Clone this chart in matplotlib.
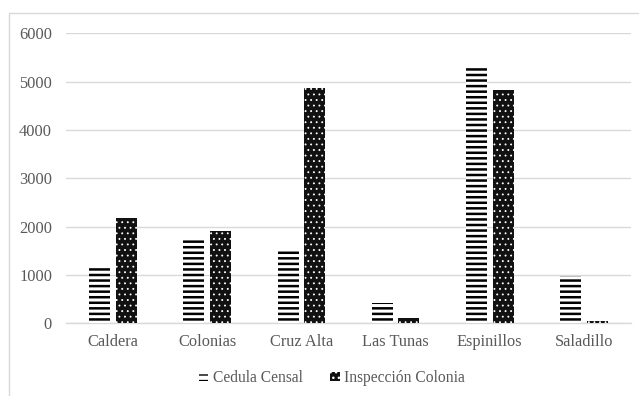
import matplotlib
matplotlib.use("Agg")
import matplotlib.pyplot as plt
import matplotlib.patches as mpatches
import numpy as np

categories = ["Caldera", "Colonias", "Cruz Alta", "Las Tunas", "Espinillos", "Saladillo"]
cedula_censal = [1180, 1720, 1540, 410, 5310, 970]
inspeccion_colonia = [2170, 1910, 4860, 110, 4820, 50]
series_names = ["Cedula Censal", "Inspección Colonia"]
y_ticks = [0, 1000, 2000, 3000, 4000, 5000, 6000]

plt.rcParams["font.family"] = ["Liberation Serif", "DejaVu Serif"]
text_color = "#595959"
grid_color = "#d9d9d9"

fig = plt.figure(figsize=(6.39, 3.96), dpi=100)
ax = fig.add_axes([66 / 639, 1 - 323.3 / 396, 565 / 639, (323.3 - 33.3) / 396])

x = np.arange(len(categories))
width = 0.223
offset = 0.142

with plt.rc_context({"hatch.linewidth": 1.8}):
    b1 = ax.bar(x - offset, cedula_censal, width, facecolor="white",
                edgecolor="black", linewidth=0, hatch="---",
                label=series_names[0], zorder=3)
with plt.rc_context({"hatch.linewidth": 0.6}):
    b2 = ax.bar(x + offset, inspeccion_colonia, width, facecolor="#111111",
                edgecolor="white", linewidth=0, hatch="...",
                label=series_names[1], zorder=3)

ax.set_xlim(-0.5, len(categories) - 0.5)
ax.set_ylim(0, 6000)
ax.set_yticks(y_ticks)
ax.set_xticks(x)
ax.set_xticklabels(categories)
ax.yaxis.grid(True, color=grid_color, linewidth=1.0, zorder=0)
ax.set_axisbelow(True)
for side in ["top", "right", "left"]:
    ax.spines[side].set_visible(False)
ax.spines["bottom"].set_color(grid_color)
ax.spines["bottom"].set_linewidth(1.0)
ax.tick_params(axis="both", length=0, labelsize=11.8, colors=text_color)
ax.tick_params(axis="y", pad=10)
ax.tick_params(axis="x", pad=8)

leg = fig.legend(handles=[b1, b2], labels=series_names, loc="center",
                 bbox_to_anchor=(332 / 639, 1 - 378 / 396), ncol=2,
                 frameon=False, fontsize=11.2, handlelength=0.6,
                 handleheight=0.6, handletextpad=0.3, columnspacing=1.8)
for t in leg.get_texts():
    t.set_color(text_color)

# chart frame
fig.patches.append(mpatches.Rectangle((8.5 / 639, -0.2), 1.2, 1 - 13.5 / 396 + 0.2,
                                      transform=fig.transFigure, fill=False,
                                      edgecolor=grid_color, linewidth=1.0))

fig.savefig("out.png", dpi=100)
